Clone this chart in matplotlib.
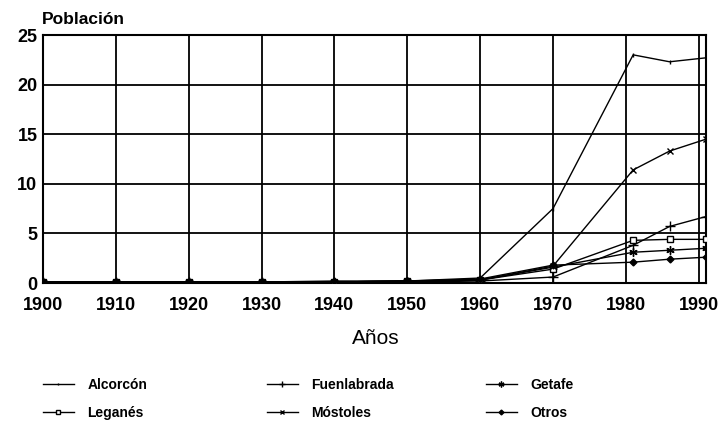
import matplotlib
matplotlib.use("Agg")
import matplotlib.pyplot as plt

years = [1900, 1910, 1920, 1930, 1940, 1950, 1960, 1970, 1981, 1986, 1991]
alcorcon = [0.1, 0.1, 0.1, 0.1, 0.1, 0.2, 0.5, 7.5, 23.0, 22.3, 22.7]
fuenlabrada = [0.1, 0.1, 0.1, 0.1, 0.1, 0.1, 0.2, 0.6, 3.8, 5.7, 6.7]
getafe = [0.1, 0.1, 0.1, 0.1, 0.1, 0.2, 0.3, 1.6, 3.1, 3.3, 3.5]
leganes = [0.1, 0.1, 0.1, 0.1, 0.1, 0.2, 0.3, 1.4, 4.3, 4.4, 4.4]
mostoles = [0.1, 0.1, 0.1, 0.1, 0.1, 0.2, 0.3, 1.7, 11.4, 13.3, 14.5]
otros = [0.1, 0.1, 0.1, 0.1, 0.2, 0.2, 0.4, 1.8, 2.1, 2.4, 2.6]

xticks = [1900, 1910, 1920, 1930, 1940, 1950, 1960, 1970, 1980, 1990]
yticks = [0, 5, 10, 15, 20, 25]

plt.rcParams['font.family'] = ['Liberation Sans', 'DejaVu Sans']

fig = plt.figure(figsize=(7.25, 4.26), dpi=100)
ax = fig.add_axes([43/725, 1-283/426, (706-43)/725, (283-35)/426])

for x in xticks:
    ax.axvline(x, color='black', lw=1.3, zorder=1)
for y in yticks[1:]:
    ax.axhline(y, color='black', lw=1.3, zorder=1)

kw = dict(color='black', lw=1.0, zorder=3)
h_alc, = ax.plot(years, alcorcon, marker='|', ms=3, label='Alcorcón', **kw)
h_fue, = ax.plot(years, fuenlabrada, marker='+', ms=7, mew=1.0, label='Fuenlabrada', **kw)
h_get, = ax.plot(years, getafe, marker=(6, 2, 0), ms=6, mew=1.0, label='Getafe', **kw)
h_leg, = ax.plot(years, leganes, marker='s', ms=4.5, mfc='white', mew=1.0, label='Leganés', **kw)
h_mos, = ax.plot(years, mostoles, marker='x', ms=5, mew=1.0, label='Móstoles', **kw)
h_otr, = ax.plot(years, otros, marker='D', ms=3.5, label='Otros', **kw)

ax.set_xlim(1900, 1991)
ax.set_ylim(0, 25)
ax.set_xticks(xticks)
ax.set_yticks(yticks)
ax.tick_params(length=0, labelsize=13)
ax.tick_params(axis='x', pad=10)
ax.tick_params(axis='y', pad=4)
for lab in ax.get_xticklabels() + ax.get_yticklabels():
    lab.set_fontweight('bold')
for s in ax.spines.values():
    s.set_linewidth(1.5)
    s.set_color('black')

fig.text(42/725, 1-20/426, 'Población', fontsize=12.5, fontweight='bold', va='center', ha='left')
fig.text(376/725, 1-338/426, 'Años', fontsize=15, ha='center', va='center')

groups = [((43, 385), [h_alc, h_leg]), ((267, 385), [h_fue, h_mos]), ((486, 385), [h_get, h_otr])]
for (gx, gy), hs in groups:
    lg = fig.legend(handles=hs, labels=[h.get_label() for h in hs], ncol=1,
                    loc='center left', bbox_to_anchor=(gx/725, 1-(gy+14)/426), frameon=False,
                    prop={'weight': 'bold', 'size': 10}, handlelength=2.2, markerscale=0.7,
                    labelspacing=1.0, handletextpad=1.0, borderpad=0, borderaxespad=0)

fig.savefig('out.png', dpi=100)
